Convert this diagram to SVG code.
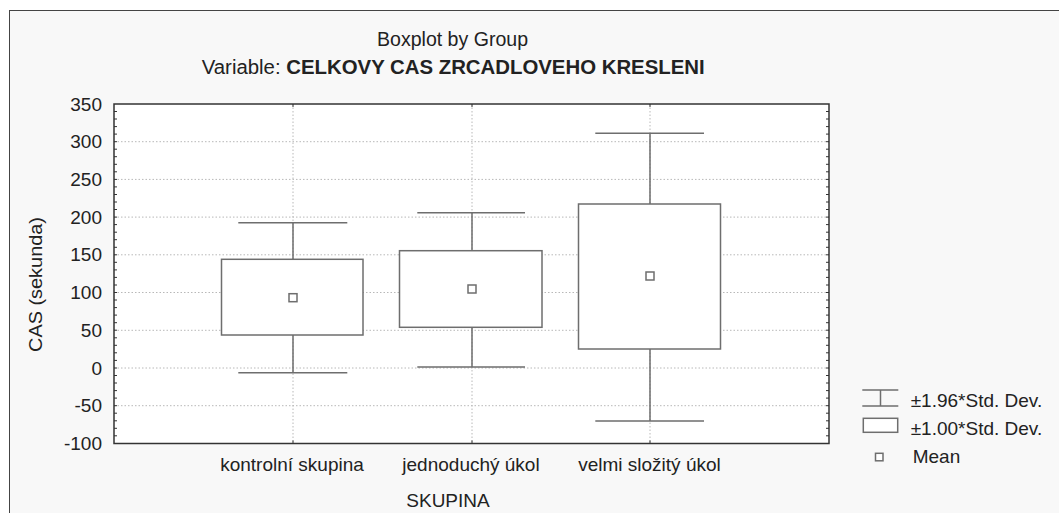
<svg xmlns="http://www.w3.org/2000/svg" width="1059" height="513" viewBox="0 0 1059 513">
<style>
text{font-family:"Liberation Sans",Arial,sans-serif;fill:#222}
.t{font-size:20px}
.tick{font-size:19px;text-anchor:end}
.cat{font-size:19px;text-anchor:middle}
.leg{font-size:19px}
.grid{stroke:#b8b8b8;stroke-width:1;stroke-dasharray:1.5 2;fill:none}
.bx{fill:#fff;stroke:#6e6e6e;stroke-width:1.5}
.wh{stroke:#6e6e6e;stroke-width:1.5;fill:none}
.mean{fill:#fff;stroke:#6e6e6e;stroke-width:1.5}
</style>
<rect x="0" y="0" width="1059" height="513" fill="#fff"/>
<rect x="9.5" y="10.5" width="1060" height="510" fill="#f8f8f8" stroke="#444" stroke-width="1"/>
<g id="title">
<text class="t" x="377" y="45.5" textLength="151" lengthAdjust="spacingAndGlyphs">Boxplot by Group</text>
<text class="t" x="201.7" y="74" textLength="503" lengthAdjust="spacingAndGlyphs">Variable: <tspan font-weight="bold">CELKOVY CAS ZRCADLOVEHO KRESLENI</tspan></text>
</g>
<g id="plot-area">
<rect x="114" y="104" width="715" height="339.5" fill="#fff"/>
<path class="grid" d="M114 141.7H829M114 179.4H829M114 217.1H829M114 254.8H829M114 292.5H829M114 330.3H829M114 405.7H829M114 368H829M293 104V443.5M472 104V443.5M650 104V443.5"/>
</g>
<g id="axis-labels">
<text class="tick" x="102" y="110.5">350</text>
<text class="tick" x="102" y="148.2">300</text>
<text class="tick" x="102" y="185.9">250</text>
<text class="tick" x="102" y="223.6">200</text>
<text class="tick" x="102" y="261.3">150</text>
<text class="tick" x="102" y="299">100</text>
<text class="tick" x="102" y="336.8">50</text>
<text class="tick" x="102" y="374.5">0</text>
<text class="tick" x="102" y="412.2">-50</text>
<text class="tick" x="102" y="450">-100</text>
<text class="cat" x="292" y="470.7">kontrolní skupina</text>
<text class="cat" x="471" y="470.7">jednoduchý úkol</text>
<text class="cat" x="649.5" y="470.7">velmi složitý úkol</text>
<text class="cat" x="448" y="506.7">SKUPINA</text>
<text font-size="19" text-anchor="middle" transform="translate(41.5 284.5) rotate(-90)" textLength="135" lengthAdjust="spacingAndGlyphs">CAS (sekunda)</text>
</g>
<g id="connectors">
<path class="wh" d="M238.3 222.7H347.3M293 222.7V259.3M293 335V372.7M238.3 372.7H347.3"/>
<path class="wh" d="M417.3 212.7H525M472 212.7V250.7M472 327.3V367M417.3 367H525"/>
<path class="wh" d="M595.3 133.3H704M650 133.3V204M650 349V421M595.3 421H704"/>
</g>
<g id="box-kontrolni">
<rect class="bx" x="221.5" y="259.3" width="141.5" height="75.7"/>
<rect class="mean" x="289" y="293.7" width="8" height="8"/>
</g>
<g id="box-jednoduchy">
<rect class="bx" x="399.5" y="250.7" width="142.5" height="76.6"/>
<rect class="mean" x="468" y="285" width="8" height="8"/>
</g>
<g id="box-slozity">
<rect class="bx" x="578.5" y="204" width="142" height="145"/>
<rect class="mean" x="646" y="272" width="8" height="8"/>
</g>
<g id="axes">
<rect x="114" y="104" width="715" height="339.5" fill="none" stroke="#333" stroke-width="1.5"/>
<path stroke="#333" stroke-width="1" fill="none" d="M114 111.5h3M114 119h3M114 126.6h3M114 134.1h3M114 141.7h3M114 149.2h3M114 156.7h3M114 164.3h3M114 171.8h3M114 179.4h3M114 186.9h3M114 194.5h3M114 202h3M114 209.5h3M114 217.1h3M114 224.6h3M114 232.2h3M114 239.7h3M114 247.3h3M114 254.8h3M114 262.3h3M114 269.9h3M114 277.4h3M114 285h3M114 292.5h3M114 300h3M114 307.6h3M114 315.1h3M114 322.7h3M114 330.2h3M114 337.8h3M114 345.3h3M114 352.8h3M114 360.4h3M114 368h3M114 375.5h3M114 383h3M114 390.6h3M114 398.1h3M114 405.7h3M114 413.2h3M114 420.8h3M114 428.3h3M114 435.8h3M829 111.5h-3M829 119h-3M829 126.6h-3M829 134.1h-3M829 141.7h-3M829 149.2h-3M829 156.7h-3M829 164.3h-3M829 171.8h-3M829 179.4h-3M829 186.9h-3M829 194.5h-3M829 202h-3M829 209.5h-3M829 217.1h-3M829 224.6h-3M829 232.2h-3M829 239.7h-3M829 247.3h-3M829 254.8h-3M829 262.3h-3M829 269.9h-3M829 277.4h-3M829 285h-3M829 292.5h-3M829 300h-3M829 307.6h-3M829 315.1h-3M829 322.7h-3M829 330.2h-3M829 337.8h-3M829 345.3h-3M829 352.8h-3M829 360.4h-3M829 368h-3M829 375.5h-3M829 383h-3M829 390.6h-3M829 398.1h-3M829 405.7h-3M829 413.2h-3M829 420.8h-3M829 428.3h-3M829 435.8h-3M293 104v3M472 104v3M650 104v3M293 443.5v-3M472 443.5v-3M650 443.5v-3"/>
</g>
<g id="legend">
<path class="wh" d="M862.3 390H898.3M880.5 390V406M862.3 406H898.3"/>
<text class="leg" x="910.7" y="406.5">±1.96*Std. Dev.</text>
<rect class="bx" x="863.3" y="418.3" width="34.4" height="14"/>
<text class="leg" x="910.7" y="435">±1.00*Std. Dev.</text>
<rect class="mean" x="875.5" y="453.3" width="7.5" height="7.5"/>
<text class="leg" x="912.7" y="463.3">Mean</text>
</g>
</svg>
